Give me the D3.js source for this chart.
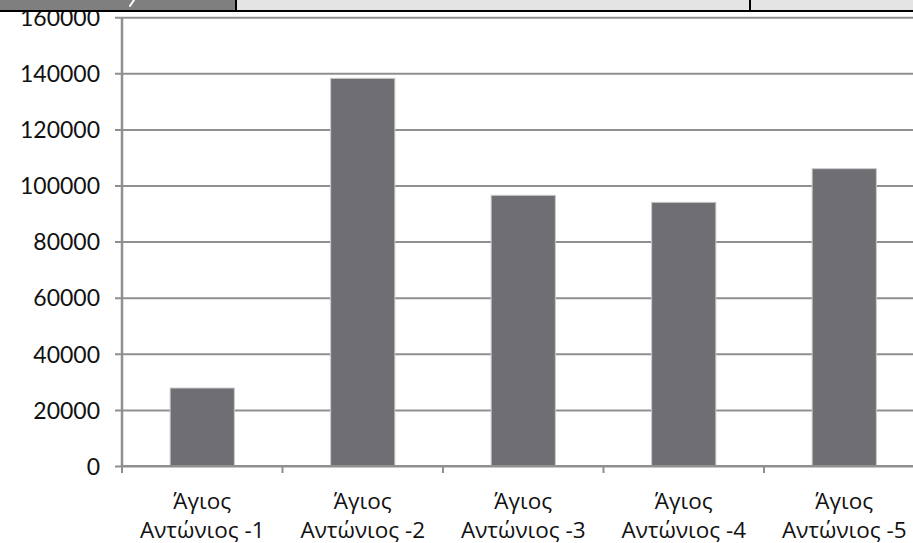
<!DOCTYPE html>
<html>
<head>
<meta charset="utf-8">
<script src="https://cdn.jsdelivr.net/npm/d3@7"></script>
<style>
  html, body { margin: 0; padding: 0; background: #ffffff; }
  svg { display: block; }
</style>
</head>
<body>
<svg id="chart" width="913" height="543"></svg>
<script>
// Category labels (two lines each) and bar values
const labelLine1 = ["Άγιος", "Άγιος", "Άγιος", "Άγιος", "Άγιος"];
const labelLine2 = ["Αντώνιος -1", "Αντώνιος -2", "Αντώνιος -3", "Αντώνιος -4", "Αντώνιος -5"];
const values = [27800, 138200, 96500, 94000, 106000];
const yTicks = [0, 20000, 40000, 60000, 80000, 100000, 120000, 140000, 160000];

const svg = d3.select("#chart");
const W = 913, H = 543;
const plot = { left: 122, right: 924.5, top: 17.2, bottom: 466 };

const categories = labelLine2;

const x = d3.scaleBand()
  .domain(categories)
  .range([plot.left, plot.right])
  .padding(0);

const y = d3.scaleLinear()
  .domain([0, 160000])
  .range([plot.bottom, plot.top]);

const gridColor = "#8f8f8f";

// Horizontal gridlines with left tick marks
const yAxis = d3.axisLeft(y)
  .tickValues(yTicks)
  .tickSize(-(plot.right - plot.left))
  .tickSizeOuter(0)
  .tickPadding(22)
  .tickFormat(d3.format("d"));

const gY = svg.append("g")
  .attr("transform", `translate(${plot.left},0)`)
  .call(yAxis);
gY.select(".domain").remove();
gY.selectAll(".tick line")
  .attr("x1", -7)
  .attr("stroke", gridColor)
  .attr("stroke-width", 2);
gY.selectAll(".tick text")
  .attr("fill", "#111")
  .attr("font-family", "Lato, 'DejaVu Sans', sans-serif")
  .attr("font-size", 23)
  .attr("dy", "0.36em");

// Bars
const barFrac = 0.4;
svg.append("g")
  .selectAll("rect")
  .data(values)
  .join("rect")
  .attr("x", (d, i) => x(categories[i]) + x.bandwidth() * (1 - barFrac) / 2)
  .attr("width", x.bandwidth() * barFrac)
  .attr("y", d => y(d))
  .attr("height", d => y(0) - y(d))
  .attr("fill", "#6f6e73")
  .attr("stroke", "#c9c9cc")
  .attr("stroke-width", 1);

// Vertical value axis line
svg.append("line")
  .attr("x1", plot.left).attr("x2", plot.left)
  .attr("y1", y(160000)).attr("y2", y(0) + 1)
  .attr("stroke", gridColor)
  .attr("stroke-width", 2.5);

// Category axis: baseline and boundary ticks
const gX = svg.append("g")
  .attr("transform", `translate(0,${plot.bottom})`);
gX.append("line")
  .attr("x1", plot.left).attr("x2", W)
  .attr("stroke", gridColor).attr("stroke-width", 2);
gX.selectAll("line.boundary")
  .data(categories)
  .join("line")
  .attr("class", "boundary")
  .attr("x1", d => x(d)).attr("x2", d => x(d))
  .attr("y1", 0).attr("y2", 7)
  .attr("stroke", gridColor).attr("stroke-width", 2);

const labels = gX.selectAll("text.cat")
  .data(categories)
  .join("text")
  .attr("class", "cat")
  .attr("text-anchor", "middle")
  .attr("fill", "#111")
  .attr("font-family", "'Open Sans', 'Noto Sans', sans-serif")
  .attr("font-size", 22.5);
labels.append("tspan")
  .attr("x", d => x(d) + x.bandwidth() / 2)
  .attr("y", 42.5)
  .text((d, i) => labelLine1[i]);
labels.append("tspan")
  .attr("x", d => x(d) + x.bandwidth() / 2)
  .attr("y", 71.5)
  .text((d, i) => labelLine2[i]);

// Header strip across the top
const header = svg.append("g");
header.append("rect")
  .attr("x", 0).attr("y", 0).attr("width", 236).attr("height", 11)
  .attr("fill", "#7f7f7f");
header.append("rect")
  .attr("x", 236).attr("y", 0).attr("width", W - 236).attr("height", 11)
  .attr("fill", "#e4e4e4");
header.append("line")
  .attr("x1", 0).attr("x2", W).attr("y1", 11).attr("y2", 11)
  .attr("stroke", "#000").attr("stroke-width", 2);
header.selectAll("line.sep")
  .data([236, 750])
  .join("line")
  .attr("class", "sep")
  .attr("x1", d => d).attr("x2", d => d)
  .attr("y1", 0).attr("y2", 11)
  .attr("stroke", "#000").attr("stroke-width", 2);
header.append("line")
  .attr("x1", 134).attr("y1", 0).attr("x2", 130).attr("y2", 6)
  .attr("stroke", "#fff").attr("stroke-width", 2)
  .attr("stroke-linecap", "round");
</script>
</body>
</html>
